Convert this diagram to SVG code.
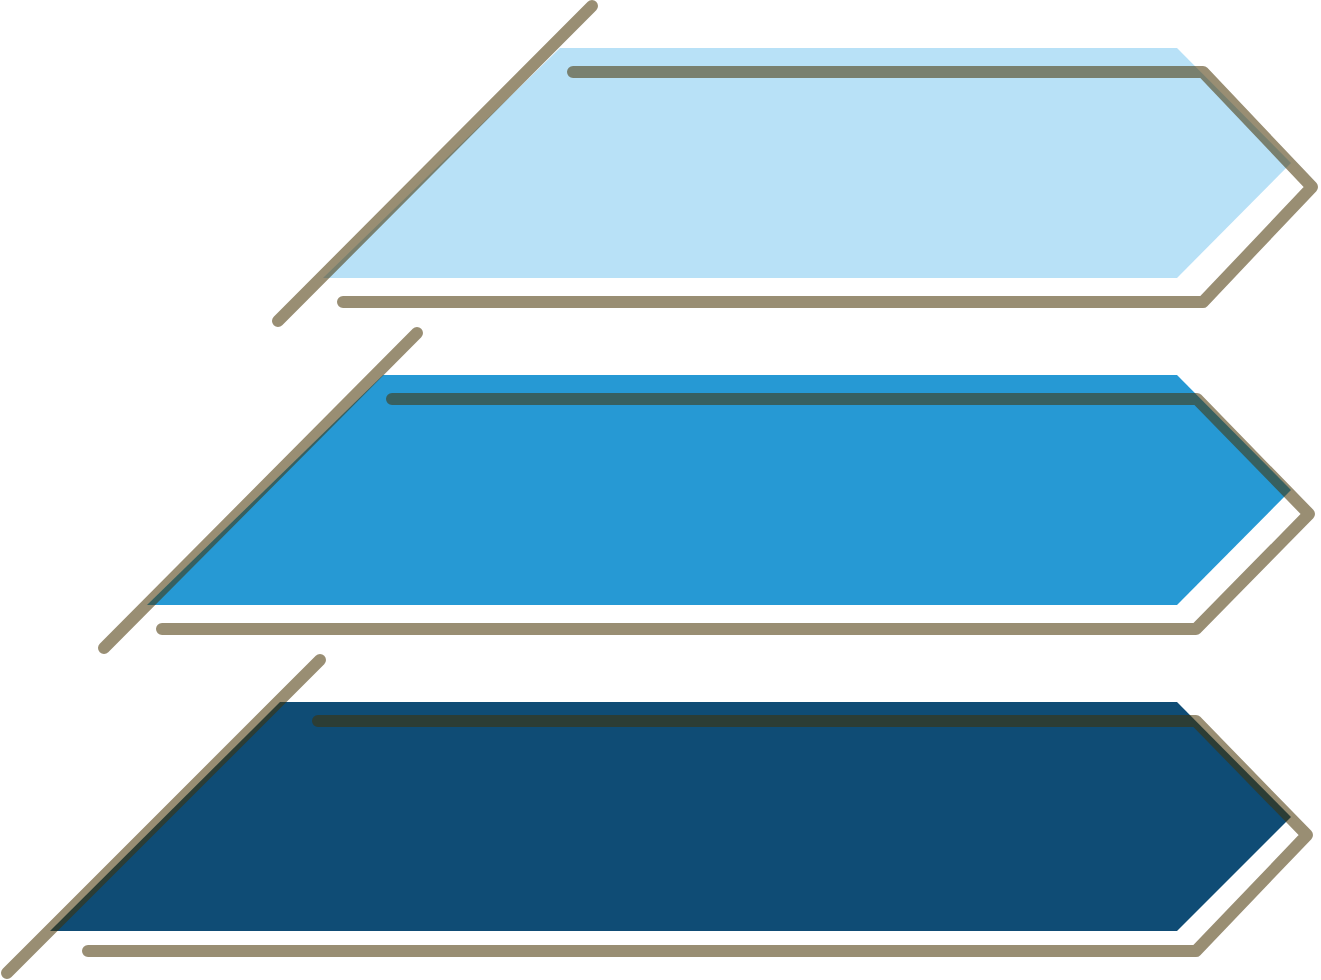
<svg xmlns="http://www.w3.org/2000/svg" width="1321" height="980" viewBox="0 0 1321 980">
<style>
.ln{fill:none;stroke:rgb(70,50,0);stroke-opacity:0.55;stroke-width:12;stroke-linecap:round;stroke-linejoin:round}
</style>
<rect width="1321" height="980" fill="#ffffff"/>
<g id="band1">
<polygon points="560,48 1177,48 1291,163 1177,278 323,278" fill="#b8e1f7"/>
<path class="ln" d="M573,72 L1203,72 L1312,187 L1203,302 L343,302"/>
<path class="ln" d="M278,321 L592,6"/>
</g>
<g id="band2">
<polygon points="383,375 1177,375 1291,490 1177,605 147,605" fill="#2699d4"/>
<path class="ln" d="M392,399 L1197,399 L1309,514 L1196,629 L162,629"/>
<path class="ln" d="M104,648 L417,333"/>
</g>
<g id="band3">
<polygon points="280,702 1177,702 1291,817 1177,931 50,931" fill="#0f4c75"/>
<path class="ln" d="M318,721 L1196,721 L1307,835 L1196,951 L88,951"/>
<path class="ln" d="M7,973 L320,660"/>
</g>
</svg>
